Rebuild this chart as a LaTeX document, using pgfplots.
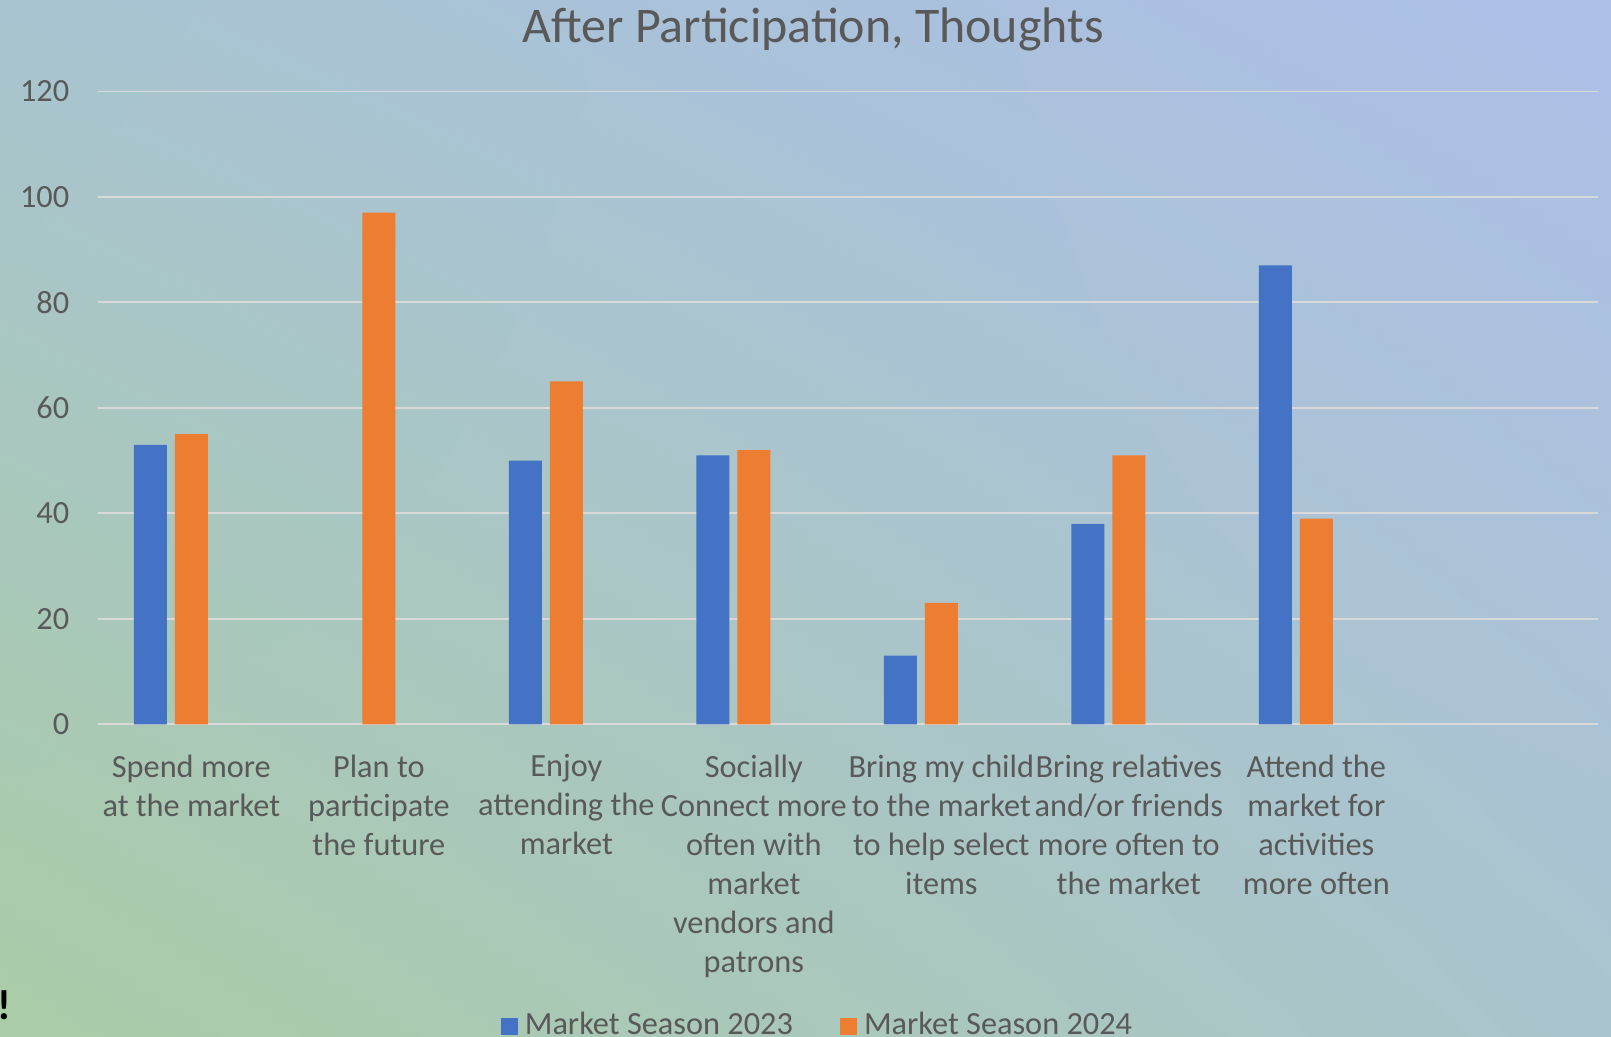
\documentclass[border=0pt]{standalone}
\usepackage{pgfplots}
\pgfplotsset{compat=1.18}
\usetikzlibrary{shadings}
\usepackage{fontspec}
\setmainfont{Carlito}
\definecolor{blueS}{RGB}{68,114,196}
\definecolor{orangeS}{RGB}{237,125,49}
\definecolor{txt}{RGB}{89,89,89}
\definecolor{gridc}{RGB}{217,217,217}
\definecolor{bgUL}{RGB}{168,196,208}
\definecolor{bgUR}{RGB}{172,191,232}
\definecolor{bgLL}{RGB}{170,204,166}
\definecolor{bgLR}{RGB}{170,196,206}
\begin{document}
\begin{tikzpicture}
\useasboundingbox (0,0) rectangle (161.1mm,103.7mm);
\shade[upper left=bgUL, upper right=bgUR, lower left=bgLL, lower right=bgLR]
  (0,0) rectangle (161.1mm,103.7mm);
\begin{axis}[
  at={(9.76mm,31.27mm)}, anchor=south west,
  scale only axis,
  width=150mm, height=63.29mm,
  ymin=0, ymax=120, ytick={0,20,...,120},
  xmin=-0.5, xmax=7.5,
  xtick={0,...,7},
  xticklabels={
    {Spend more\\at the market},
    {Plan to\\participate\\the future},
    {Enjoy\\attending the\\market},
    {Socially\\Connect more\\often with\\market\\vendors and\\patrons},
    {Bring my child\\to the market\\to help select\\items},
    {Bring relatives\\and/or friends\\more often to\\the market},
    {Attend the\\market for\\activities\\more often},
    {}},
  x tick label style={align=center, font=\fontsize{9.2}{11.1}\selectfont, text=txt, yshift=-1.8mm, anchor=north},
  y tick label style={font=\fontsize{9.2}{11}\selectfont, text=txt, xshift=-1.6mm},
  /pgf/number format/assume math mode=true,
  major tick length=0pt,
  axis line style={draw=none},
  ymajorgrids, grid style={gridc, line width=0.5pt},
  ybar, bar width=3.3mm,
  legend style={at={(0.4816,-0.477)}, anchor=center, draw=none, fill=none,
    legend columns=2, font=\fontsize{9.2}{11}\selectfont, text=txt,
    /tikz/every even column/.append style={column sep=4mm}},
  legend image code/.code={\fill (0.3mm,-0.85mm) rectangle (2.0mm,0.85mm);},
]
\addplot[fill=blueS, draw=none, bar shift=-4.1mm] coordinates {(0,53) (2,50) (3,51) (4,13) (5,38) (6,87)};
\addplot[fill=orangeS, draw=none, bar shift=0mm] coordinates {(0,55) (1,97) (2,65) (3,52) (4,23) (5,51) (6,39)};
\legend{Market Season 2023, Market Season 2024}
\end{axis}
\node[text=txt, font=\fontsize{14.2}{17}\selectfont] at (81.3mm,100.8mm) {After Participation, Thoughts};
\node[font=\fontsize{12}{14}\selectfont\bfseries, anchor=west, inner sep=0pt] at (-0.3mm,3.2mm) {!};
\end{tikzpicture}
\end{document}
